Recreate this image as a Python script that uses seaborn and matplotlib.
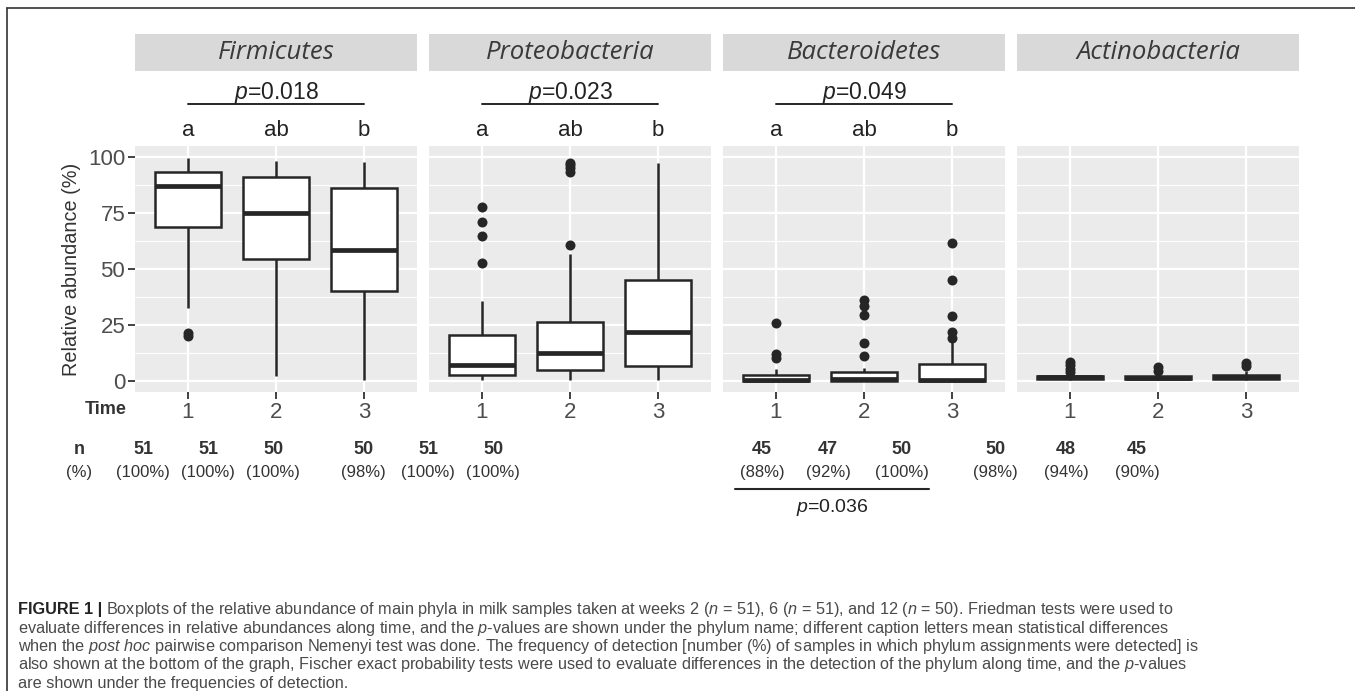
import pandas as pd
import seaborn as sns
import matplotlib.pyplot as plt
from matplotlib.patches import Rectangle
from matplotlib.lines import Line2D
from matplotlib.ticker import MultipleLocator
from matplotlib import font_manager

# ---- data ----
phyla = ['Firmicutes', 'Proteobacteria', 'Bacteroidetes', 'Actinobacteria']
times = ['1', '2', '3']

# box summaries per time point: lower whisker, Q1, median, Q3, upper whisker
firmicutes_box = [[32.7, 68.9, 87.0, 93.4, 99.7],
                  [2.2, 54.3, 74.9, 91.2, 98.5],
                  [0.3, 40.2, 58.5, 86.3, 97.8]]
proteobacteria_box = [[0.3, 2.7, 7.1, 20.4, 35.7],
                      [0.3, 4.8, 12.4, 26.3, 56.8],
                      [0.3, 6.7, 22.0, 44.9, 97.5]]
bacteroidetes_box = [[0.0, 0.0, 0.5, 2.5, 5.5],
                     [0.0, 0.0, 0.8, 4.0, 5.7],
                     [0.0, 0.0, 0.5, 7.4, 17.9]]
actinobacteria_box = [[0.2, 0.8, 1.5, 2.3, 3.5],
                      [0.2, 0.8, 1.4, 2.1, 3.5],
                      [0.2, 0.9, 1.8, 2.8, 4.5]]

# outlying samples
firmicutes_out = [[20.0, 21.5], [], []]
proteobacteria_out = [[52.5, 64.7, 71.1, 77.7], [60.7, 93.5, 95.0, 96.5, 97.5], []]
bacteroidetes_out = [[10.4, 12.0, 26.0], [11.2, 17.1, 29.5, 33.5, 36.0],
                     [19.3, 22.0, 29.0, 45.1, 61.6]]
actinobacteria_out = [[4.0, 5.5, 7.0, 8.5], [4.5, 6.0], [6.5, 8.0]]

friedman_p = ['0.018', '0.023', '0.049', None]
posthoc_letters = [['a', 'ab', 'b'], ['a', 'ab', 'b'], ['a', 'ab', 'b'], None]
n_detected = [[51, 51, 50], [50, 51, 50], [45, 47, 50], [50, 48, 45]]
pct_detected = [[100, 100, 100], [98, 100, 100], [88, 92, 100], [98, 94, 90]]
fisher_p = [None, None, '0.036', None]

caption = [
    "Boxplots of the relative abundance of main phyla in milk samples taken at weeks 2 ($\\mathit{n}$ = 51), "
    "6 ($\\mathit{n}$ = 51), and 12 ($\\mathit{n}$ = 50). Friedman tests were used to",
    "evaluate differences in relative abundances along time, and the $\\mathit{p}$-values are shown under the "
    "phylum name; different caption letters mean statistical differences",
    "when the $\\mathit{post\\ hoc}$ pairwise comparison Nemenyi test was done. The frequency of detection "
    "[number (%) of samples in which phylum assignments were detected] is",
    "also shown at the bottom of the graph, Fischer exact probability tests were used to evaluate differences "
    "in the detection of the phylum along time, and the $\\mathit{p}$-values",
    "are shown under the frequencies of detection.",
]

boxes = [firmicutes_box, proteobacteria_box, bacteroidetes_box, actinobacteria_box]
outs = [firmicutes_out, proteobacteria_out, bacteroidetes_out, actinobacteria_out]

box_rows, out_rows = [], []
for ph, bx, ot in zip(phyla, boxes, outs):
    for t, vals, ovals in zip(times, bx, ot):
        for v in vals:
            box_rows.append({'phylum': ph, 'time': t, 'value': v})
        for v in ovals:
            out_rows.append({'phylum': ph, 'time': t, 'value': v})
df_box = pd.DataFrame(box_rows)
df_out = pd.DataFrame(out_rows)

# ---- style ----
sns.set_theme(style='darkgrid', rc={'axes.facecolor': '#EBEBEB', 'grid.color': 'white'})


def have(name):
    try:
        font_manager.findfont(name, fallback_to_default=False)
        return True
    except Exception:
        return False


base_font = 'Liberation Sans' if have('Liberation Sans') else 'DejaVu Sans'
strip_font = 'Open Sans' if have('Open Sans') else base_font
plt.rcParams['font.family'] = [base_font, 'DejaVu Sans']
plt.rcParams['mathtext.fontset'] = 'custom'
plt.rcParams['mathtext.rm'] = base_font
plt.rcParams['mathtext.it'] = base_font + ':italic'
plt.rcParams['mathtext.bf'] = base_font + ':bold'

W, H = 1355, 691


def fx(px):
    return px / W


def fy(py):
    return 1 - py / H


fig = plt.figure(figsize=(W / 100, H / 100), dpi=100)
fig.patch.set_facecolor('white')

panel_left = [135, 429, 723, 1017]
panel_w, panel_top, panel_bot = 282, 146, 392
dark = '#262626'
ph_h = panel_bot - panel_top

axes = []
for i, ph in enumerate(phyla):
    ax = fig.add_axes([fx(panel_left[i]), fy(panel_bot), panel_w / W, ph_h / H])
    axes.append(ax)
    sns.boxplot(data=df_box[df_box['phylum'] == ph], x='time', y='value', order=times,
                whis=(0, 100), showfliers=False, width=0.75, color='white',
                linecolor=dark, linewidth=1.8, saturation=1,
                medianprops={'linewidth': 3.4}, capprops={'linewidth': 0}, ax=ax)
    sns.stripplot(data=df_out[df_out['phylum'] == ph], x='time', y='value', order=times,
                  jitter=False, color=dark, size=7.2, linewidth=0, zorder=4, ax=ax)

    ax.set_xlim(-0.6, 2.6)
    ax.set_ylim(-5, 105)
    ax.set_yticks([0, 25, 50, 75, 100])
    ax.yaxis.set_minor_locator(MultipleLocator(12.5))
    ax.grid(which='major', color='white', linewidth=1.6)
    ax.grid(which='minor', axis='y', color='white', linewidth=0.8)
    ax.set_axisbelow(True)
    for s in ax.spines.values():
        s.set_visible(False)
    ax.set_xlabel('')
    ax.set_ylabel('')
    ax.tick_params(axis='x', bottom=True, length=5, width=1.3, color='#333333',
                   labelsize=16, labelcolor='#4d4d4d', pad=2.5)
    ax.tick_params(which='minor', length=0)
    if i == 0:
        ax.tick_params(axis='y', left=True, length=5, width=1.3, color='#333333',
                       labelsize=16, labelcolor='#4d4d4d', pad=2)
        ax.set_ylabel('Relative abundance (%)', fontsize=14.3, color='#333333')
        ax.yaxis.set_label_coords(-0.19, 0.5)
    else:
        ax.tick_params(axis='y', left=False, labelleft=False)

    # facet strip
    sy0 = (panel_bot - 71) / ph_h
    sy1 = (panel_bot - 34) / ph_h
    ax.add_patch(Rectangle((0, sy0), 1, sy1 - sy0, transform=ax.transAxes,
                           facecolor='#D9D9D9', edgecolor='none', clip_on=False))
    ax.text(0.5, (sy0 + sy1) / 2, ph, transform=ax.transAxes, ha='center', va='center',
            fontsize=18.5, style='italic', color='#3a3a3a', family=strip_font)

    # Friedman p-value and post hoc letters
    tr = ax.get_xaxis_transform()
    if friedman_p[i] is not None:
        ly = (panel_bot - 104) / ph_h
        ax.plot([0, 2], [ly, ly], transform=tr, color=dark, lw=1.4, clip_on=False)
        ax.text(1, (panel_bot - 93) / ph_h, '$\\mathit{p}$=' + friedman_p[i],
                transform=tr, ha='center', va='center', fontsize=16.5, color='#222222')
    if posthoc_letters[i] is not None:
        for k, lt in enumerate(posthoc_letters[i]):
            ax.text(k, (panel_bot - 131) / ph_h, lt, transform=tr,
                    ha='center', va='center', fontsize=16, color='#222222')

# x title and detection table
fig.text(fx(106), fy(410), 'Time', ha='center', va='center', fontsize=13,
         fontweight='bold', color='#333333')
fig.text(fx(79), fy(450), 'n', ha='center', va='center', fontsize=13,
         fontweight='bold', color='#333333')
fig.text(fx(79), fy(472), '(%)', ha='center', va='center', fontsize=12,
         color='#333333')
table_x = [[143, 208, 273], [363, 428, 493], [762, 828, 902], [995, 1066, 1137]]
for i in range(len(phyla)):
    for k in range(3):
        fig.text(fx(table_x[i][k]), fy(450), str(n_detected[i][k]), ha='center', va='center',
                 fontsize=13, fontweight='bold', color='#333333')
        fig.text(fx(table_x[i][k]), fy(472), '(%d%%)' % pct_detected[i][k], ha='center',
                 va='center', fontsize=12, color='#333333')
    if fisher_p[i] is not None:
        x0, x1 = table_x[i][0] - 27, table_x[i][2] + 27
        fig.add_artist(Line2D([fx(x0), fx(x1)], [fy(489), fy(489)], color=dark, lw=1.5))
        fig.text(fx((x0 + x1) / 2), fy(507), '$\\mathit{p}$=' + fisher_p[i], ha='center',
                 va='center', fontsize=14, color='#222222')

# frame
fig.add_artist(Line2D([fx(7), 1], [fy(8), fy(8)], color='#333333', lw=1.2))
fig.add_artist(Line2D([fx(7), fx(7)], [fy(8), 0], color='#333333', lw=1.2))

# caption
renderer = fig.canvas.get_renderer()
cap_y = [614, 632.5, 651, 669.5, 688]
cap_size = 11.7
head = fig.text(fx(18), fy(cap_y[0]), 'FIGURE 1 |', ha='left', va='baseline', fontsize=cap_size,
                fontweight='bold', color='#222222')
hb = head.get_window_extent(renderer)
fig.text(hb.x1 / W + fx(4), fy(cap_y[0]), caption[0], ha='left', va='baseline', fontsize=cap_size,
         color='#4a4a4a')
for line, yy in zip(caption[1:], cap_y[1:]):
    fig.text(fx(18), fy(yy), line, ha='left', va='baseline', fontsize=cap_size, color='#4a4a4a')

fig.savefig('out.png', dpi=100, facecolor='white')
